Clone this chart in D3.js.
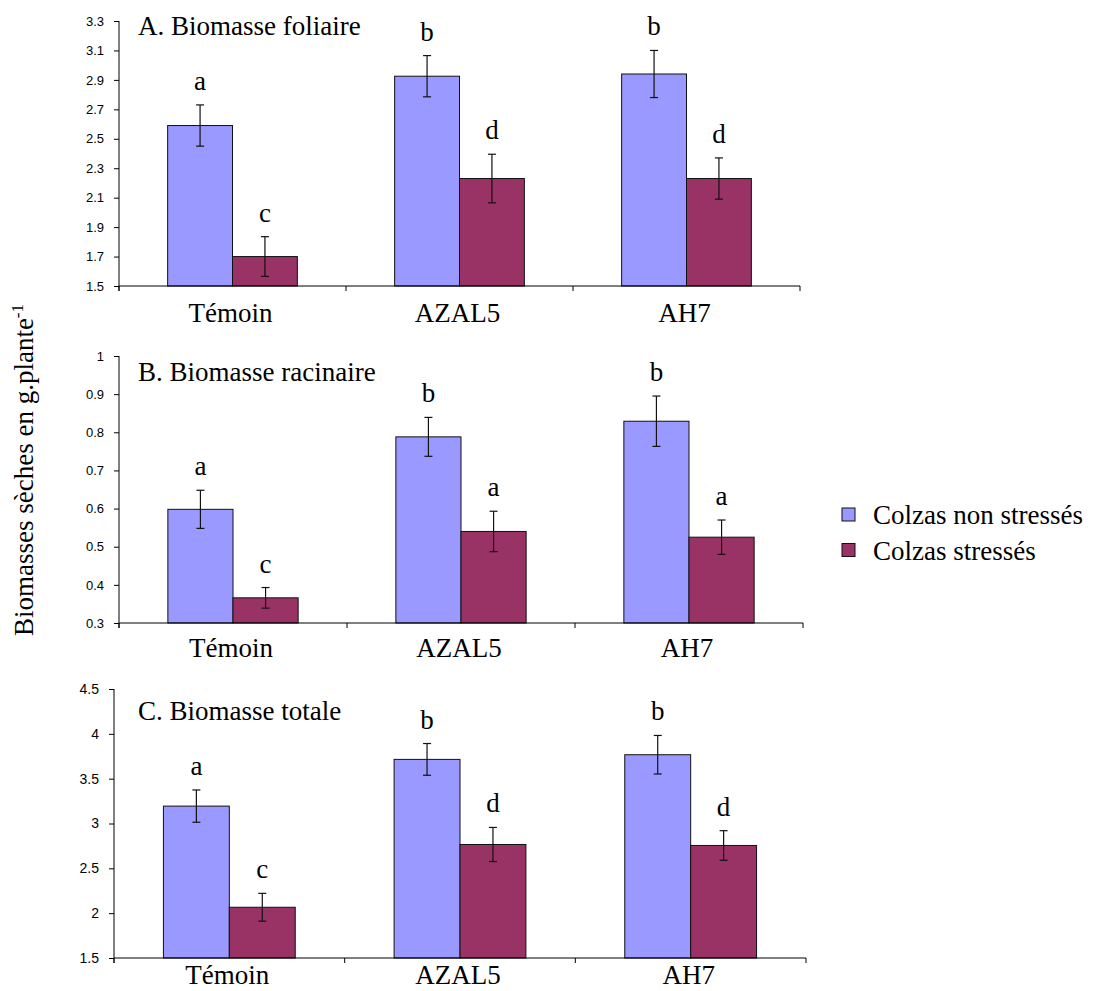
<!DOCTYPE html>
<html>
<head>
<meta charset="utf-8">
<script src="https://cdn.jsdelivr.net/npm/d3@7"></script>
<style>
  body { margin: 0; background: #fff; }
</style>
</head>
<body>
<div id="chart"></div>
<script>
// categories and series
const categories = ['Témoin', 'AZAL5', 'AH7'];
const seriesNames = ['Colzas non stressés', 'Colzas stressés'];

// A. foliaire
const foliaireNon = [2.59, 2.925, 2.94];
const foliaireStr = [1.70, 2.23, 2.23];
const foliaireErrNon = [0.14, 0.14, 0.16];
const foliaireErrStr = [0.135, 0.165, 0.14];
const foliaireLetters = [['a', 'c'], ['b', 'd'], ['b', 'd']];
const foliaireTicks = [1.5, 1.7, 1.9, 2.1, 2.3, 2.5, 2.7, 2.9, 3.1, 3.3];

// B. racinaire
const racinaireNon = [0.598, 0.788, 0.829];
const racinaireStr = [0.366, 0.540, 0.525];
const racinaireErrNon = [0.05, 0.051, 0.066];
const racinaireErrStr = [0.027, 0.053, 0.045];
const racinaireLetters = [['a', 'c'], ['b', 'a'], ['b', 'a']];
const racinaireTicks = [0.3, 0.4, 0.5, 0.6, 0.7, 0.8, 0.9, 1];

// C. totale
const totaleNon = [3.194, 3.715, 3.767];
const totaleStr = [2.066, 2.766, 2.755];
const totaleErrNon = [0.18, 0.177, 0.215];
const totaleErrStr = [0.155, 0.19, 0.165];
const totaleLetters = [['a', 'c'], ['b', 'd'], ['b', 'd']];
const totaleTicks = [1.5, 2, 2.5, 3, 3.5, 4, 4.5];

const colors = ['#9999FF', '#993366'];
const SERIF = '"Liberation Serif", "Times New Roman", Times, serif';
const SANS = '"Liberation Sans", Arial, Helvetica, sans-serif';

const svg = d3.select('#chart')
    .append('svg')
    .attr('width', 1096)
    .attr('height', 991);

const panels = [
    { title: 'A. Biomasse foliaire', non: foliaireNon, str: foliaireStr, errNon: foliaireErrNon, errStr: foliaireErrStr,
      letters: foliaireLetters, ticks: foliaireTicks, fmt: d3.format('.1f'),
      left: 119, right: 800, top: 21, bottom: 286, titleY: 35, labelDy: 36, tickFont: 13 },
    { title: 'B. Biomasse racinaire', non: racinaireNon, str: racinaireStr, errNon: racinaireErrNon, errStr: racinaireErrStr,
      letters: racinaireLetters, ticks: racinaireTicks, fmt: d => d === 1 ? '1' : d3.format('.1f')(d),
      left: 119, right: 803, top: 356, bottom: 623, titleY: 381, labelDy: 34, tickFont: 13 },
    { title: 'C. Biomasse totale', non: totaleNon, str: totaleStr, errNon: totaleErrNon, errStr: totaleErrStr,
      letters: totaleLetters, ticks: totaleTicks, fmt: d => d % 1 === 0 ? d3.format('d')(d) : d3.format('.1f')(d),
      left: 114, right: 806, top: 689, bottom: 958, titleY: 720, labelDy: 26, tickFont: 14 }
];

const drawPanel = p => {
    const g = svg.append('g');

    const yScale = d3.scaleLinear()
        .domain(d3.extent(p.ticks))
        .range([p.bottom, p.top]);

    const x0 = d3.scaleBand()
        .domain(categories)
        .range([p.left, p.right]);

    // excel gap width 150%
    const bw = x0.bandwidth();
    const x1 = d3.scaleBand()
        .domain(seriesNames)
        .range([bw * 1.5 / 7, bw * (1 - 1.5 / 7)]);

    const rows = categories.map((c, i) => [
        { cat: c, s: seriesNames[0], v: p.non[i], e: p.errNon[i], l: p.letters[i][0], col: colors[0] },
        { cat: c, s: seriesNames[1], v: p.str[i], e: p.errStr[i], l: p.letters[i][1], col: colors[1] }
    ]).flat();

    // bars
    g.selectAll('rect.bar')
        .data(rows)
        .enter()
        .append('rect')
        .attr('class', 'bar')
        .attr('x', d => x0(d.cat) + x1(d.s))
        .attr('y', d => yScale(d.v))
        .attr('width', x1.bandwidth())
        .attr('height', d => yScale.range()[0] - yScale(d.v))
        .attr('fill', d => d.col)
        .attr('stroke', '#111')
        .attr('stroke-width', 1);

    // error bars
    const cx = d => x0(d.cat) + x1(d.s) + x1.bandwidth() / 2;
    const eb = g.selectAll('g.err')
        .data(rows)
        .enter()
        .append('g')
        .attr('class', 'err')
        .attr('stroke', '#111')
        .attr('stroke-width', 1.2);
    eb.append('line')
        .attr('x1', cx).attr('x2', cx)
        .attr('y1', d => yScale(d.v + d.e))
        .attr('y2', d => yScale(d.v - d.e));
    eb.append('line')
        .attr('x1', d => cx(d) - 4).attr('x2', d => cx(d) + 4)
        .attr('y1', d => yScale(d.v + d.e))
        .attr('y2', d => yScale(d.v + d.e));
    eb.append('line')
        .attr('x1', d => cx(d) - 4).attr('x2', d => cx(d) + 4)
        .attr('y1', d => yScale(d.v - d.e))
        .attr('y2', d => yScale(d.v - d.e));

    // significance letters
    g.selectAll('text.letter')
        .data(rows)
        .enter()
        .append('text')
        .attr('class', 'letter')
        .attr('font-family', SERIF)
        .attr('font-size', 27)
        .attr('x', cx)
        .attr('y', d => yScale(d.v + d.e) - 15)
        .attr('text-anchor', 'middle')
        .text(d => d.l);

    // axes
    const yAxis = d3.axisLeft(yScale)
        .tickValues(p.ticks)
        .tickSize(5)
        .tickPadding(10)
        .tickFormat(p.fmt);

    const yAxisG = g.append('g')
        .attr('transform', 'translate(' + p.left + ',0)')
        .call(yAxis);
    yAxisG.attr('font-family', SANS).attr('font-size', p.tickFont);
    yAxisG.select('.domain').attr('d', 'M0,' + p.top + 'V' + (p.bottom + 5));

    const bounds = categories.map(c => x0(c)).concat([p.right]);
    const xAxisG = g.append('g');
    xAxisG.append('line')
        .attr('x1', p.left).attr('x2', p.right)
        .attr('y1', p.bottom).attr('y2', p.bottom)
        .attr('stroke', '#000');
    xAxisG.selectAll('line.xt')
        .data(bounds)
        .enter()
        .append('line')
        .attr('class', 'xt')
        .attr('x1', d => d).attr('x2', d => d)
        .attr('y1', p.bottom).attr('y2', p.bottom + 5)
        .attr('stroke', '#000');
    xAxisG.selectAll('text')
        .data(categories)
        .enter()
        .append('text')
        .attr('font-family', SERIF)
        .attr('font-size', 27)
        .attr('x', d => x0(d) + bw / 2 - 2)
        .attr('y', p.bottom + p.labelDy)
        .attr('text-anchor', 'middle')
        .text(d => d);

    // panel title
    g.append('text')
        .attr('font-family', SERIF)
        .attr('font-size', 27)
        .attr('x', 138)
        .attr('y', p.titleY)
        .text(p.title);
};

panels.forEach(drawPanel);

// y label
const yLab = svg.append('text')
    .attr('font-family', SERIF)
    .attr('font-size', 27)
    .attr('transform', 'translate(33,470) rotate(-90)')
    .attr('text-anchor', 'middle');
yLab.append('tspan').text('Biomasses sèches en g.plante');
yLab.append('tspan')
    .attr('dy', -10)
    .attr('font-size', 17)
    .text('-1');

// legend
const legend = svg.append('g');
legend.selectAll('rect')
    .data(seriesNames)
    .enter()
    .append('rect')
    .attr('x', 842)
    .attr('y', (d, i) => 508 + i * 35.5)
    .attr('width', 13)
    .attr('height', 13)
    .attr('fill', (d, i) => colors[i])
    .attr('stroke', '#111');
legend.selectAll('text')
    .data(seriesNames)
    .enter()
    .append('text')
    .attr('font-family', SERIF)
    .attr('font-size', 27)
    .attr('x', 873)
    .attr('y', (d, i) => 524 + i * 36)
    .text(d => d);
</script>
</body>
</html>
